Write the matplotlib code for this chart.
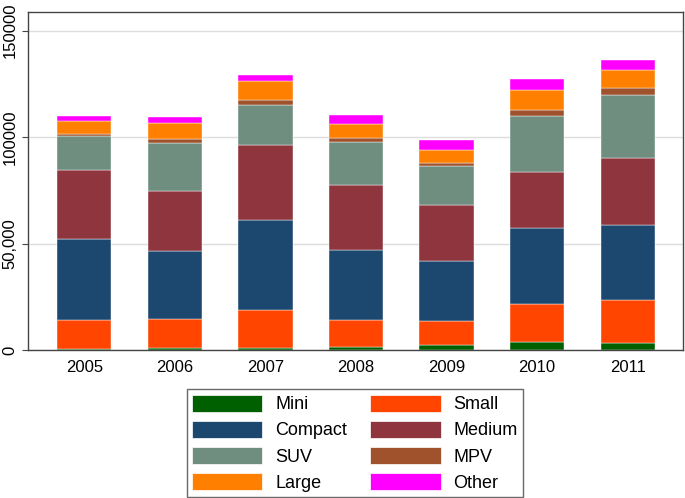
import numpy as np
import matplotlib.pyplot as plt
from matplotlib.patches import Patch

plt.rcParams['font.family'] = ['Liberation Sans', 'DejaVu Sans']

years = ['2005', '2006', '2007', '2008', '2009', '2010', '2011']
categories = ['Mini', 'Small', 'Compact', 'Medium', 'SUV', 'MPV', 'Large', 'Other']
colors = ['#006000', '#FF4500', '#1C4870', '#8E353D', '#6F8E80', '#A0522D', '#FF7F00', '#FF00FF']

# sales by segment
mini = [500, 1100, 1100, 1400, 2500, 3900, 3300]
small = [13600, 13300, 17800, 12900, 11300, 17700, 20300]
compact = [38200, 32300, 42300, 32500, 28000, 35900, 35150]
medium = [32300, 28200, 35000, 30800, 26200, 26200, 31650]
suv = [16000, 22500, 18800, 20300, 18600, 26400, 29450]
mpv = [900, 1900, 2200, 1700, 1400, 2700, 2950]
large = [6000, 7400, 8900, 6600, 6100, 9500, 8900]
other = [2300, 2500, 3000, 4200, 4400, 5100, 4600]

series = [mini, small, compact, medium, suv, mpv, large, other]

fig = plt.figure(figsize=(6.85, 4.98), dpi=100)
ax = fig.add_axes([0.041, 0.297, 0.956, 0.678])

x = np.arange(len(years))
bottom = np.zeros(len(years))
for vals, col in zip(series, colors):
    ax.bar(x, vals, width=0.6, bottom=bottom, color=col, edgecolor='white', linewidth=0.3, zorder=2)
    bottom += np.array(vals)

ax.set_xlim(-0.62, 6.61)
ax.set_ylim(0, 158500)
ax.set_xticks(x)
ax.set_xticklabels(years, fontsize=12)
ax.set_yticks([0, 50000, 100000, 150000])
ax.set_yticklabels(['0', '50,000', '100000', '150000'], fontsize=12, rotation=90, va='center')
ax.yaxis.grid(True, color='#DDDDDD', linewidth=1, zorder=0)
ax.set_axisbelow(True)
for s in ax.spines.values():
    s.set_color('#444444')
    s.set_linewidth(1)
ax.tick_params(axis='y', colors='#444444', labelcolor='black', length=4)
ax.tick_params(axis='x', length=0, pad=7, labelcolor='black')

# legend is filled row by row: Mini/Small, Compact/Medium, ...
order = [0, 2, 4, 6, 1, 3, 5, 7]
handles = [Patch(facecolor=colors[i], edgecolor='white', linewidth=0.5) for i in order]
labels = [categories[i] for i in order]
fig.legend(handles, labels, loc='center', bbox_to_anchor=(0.518, 0.11), ncol=2,
           fontsize=13, handlelength=3.9, handleheight=1.05, columnspacing=1.3,
           labelspacing=0.42, handletextpad=0.7, frameon=True, fancybox=False,
           edgecolor='#444444', borderpad=0.3)

fig.savefig('out.png', dpi=100)
